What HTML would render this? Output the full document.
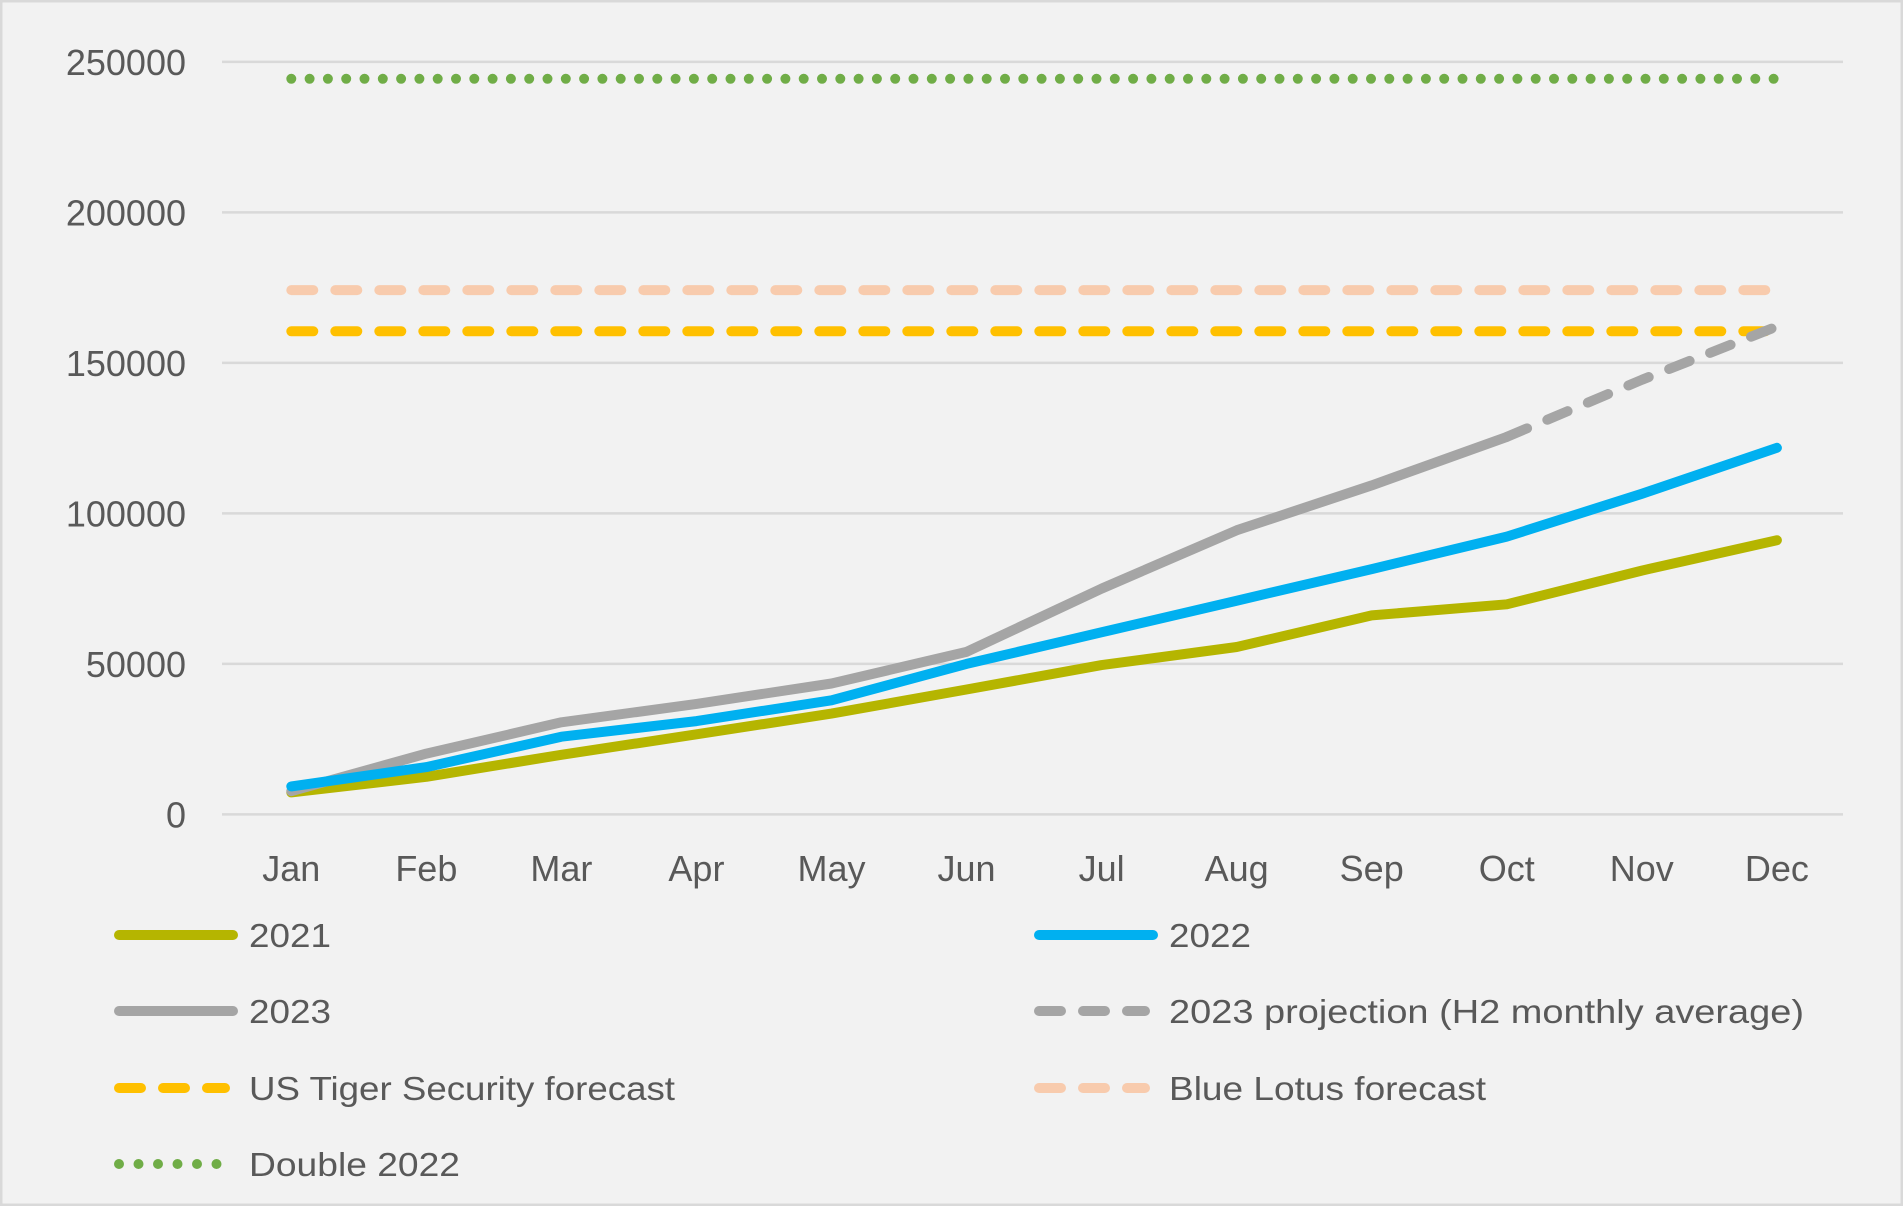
<!DOCTYPE html>
<html><head><meta charset="utf-8">
<style>
html,body{margin:0;padding:0;background:#f2f2f2;}
svg{display:block;font-family:"Liberation Sans",sans-serif;}
</style></head>
<body>
<svg id="chart" width="1903" height="1206" viewBox="0 0 1903 1206" xmlns="http://www.w3.org/2000/svg">
<rect x="1" y="1" width="1901" height="1204" fill="#f2f2f2" stroke="#d9d9d9" stroke-width="3"/>
<g id="grid"></g><g id="series"></g><g id="axes"></g><g id="legend"></g>
</svg>
<script>
const months = ["Jan","Feb","Mar","Apr","May","Jun","Jul","Aug","Sep","Oct","Nov","Dec"];
const yTicks = [0,50000,100000,150000,200000,250000];
const s2021 = [7300,12500,19800,26600,33500,41500,49600,55600,66100,69800,81000,91100];
const s2022 = [9300,15700,25800,31000,37900,50000,60500,71000,81500,92300,106500,121800];
const s2023 = [7700,20200,30600,36700,43500,54000,75000,94400,109300,125400,null,null];
const s2023proj = [null,null,null,null,null,null,null,null,null,125400,144400,162100];
const usTiger = [160500,160500,160500,160500,160500,160500,160500,160500,160500,160500,160500,160500];
const blueLotus = [174200,174200,174200,174200,174200,174200,174200,174200,174200,174200,174200,174200];
const double2022 = [244400,244400,244400,244400,244400,244400,244400,244400,244400,244400,244400,244400];

const NS="http://www.w3.org/2000/svg";
const X0=222, X1=1843, Y0=814.4, Y1=61.9, YMAX=250000;
const xJan=291.3, xStep=135.05;
function xScale(i){return xJan+i*xStep;}
function yScale(v){return Y0-(v/YMAX)*(Y0-Y1);}
function mk(tag,attrs,parent){const e=document.createElementNS(NS,tag);for(const k in attrs)e.setAttribute(k,attrs[k]);parent.appendChild(e);return e;}

const grid=document.getElementById('grid'), axes=document.getElementById('axes'), ser=document.getElementById('series'), leg=document.getElementById('legend');
yTicks.forEach(t=>{
  const l=mk('line',{x1:X0,x2:X1,y1:yScale(t),y2:yScale(t),stroke:'#d9d9d9','stroke-width':2.5},grid);
  
  
  const tx=mk('text',{x:186,y:yScale(t)+13,'text-anchor':'end','font-size':36,fill:'#595959'},axes);
  tx.textContent=String(t);
  
  
});
months.forEach((m,i)=>{
  const tx=mk('text',{x:xScale(i),y:881,'text-anchor':'middle','font-size':36,fill:'#595959'},axes);
  tx.textContent=m;
  
  
});
function pathFor(arr){let d='';arr.forEach((v,i)=>{if(v===null)return;d+=(d?'L':'M')+xScale(i).toFixed(1)+' '+yScale(v).toFixed(1);});return d;}
const styles=[
 {arr:double2022,name:'double-2022-line',color:'#70ad47',dash:'0 18.3'},
 {arr:blueLotus,name:'blue-lotus-forecast-line',color:'#f8cbad',dash:'22 22'},
 {arr:usTiger,name:'us-tiger-forecast-line',color:'#ffc000',dash:'22 22'},
 {arr:s2021,name:'line-2021',color:'#b5b500',dash:null},
 {arr:s2023proj,name:'line-2023-projection',color:'#a5a5a5',dash:'22 22'},
 {arr:s2023,name:'line-2023',color:'#a5a5a5',dash:null},
 {arr:s2022,name:'line-2022',color:'#00b0f0',dash:null}
];
styles.forEach(s=>{
  const a={d:pathFor(s.arr),fill:'none',stroke:s.color,'stroke-width':10,'stroke-linecap':'round','stroke-linejoin':'round'};
  if(s.dash)a['stroke-dasharray']=s.dash;
  const p=mk('path',a,ser);
  
  
});
const legendItems=[
 {label:'2021',color:'#b5b500',dash:null,x:115,y:935,tl:82},
 {label:'2022',color:'#00b0f0',dash:null,x:1035,y:935,tl:82},
 {label:'2023',color:'#a5a5a5',dash:null,x:115,y:1011,tl:82},
 {label:'2023 projection (H2 monthly average)',color:'#a5a5a5',dash:'22 22',x:1035,y:1011,tl:635},
 {label:'US Tiger Security forecast',color:'#ffc000',dash:'22 22',x:115,y:1088,tl:426},
 {label:'Blue Lotus forecast',color:'#f8cbad',dash:'22 22',x:1035,y:1088,tl:317},
 {label:'Double 2022',color:'#70ad47',dash:'0 19.5',x:115,y:1164,tl:211}
];
legendItems.forEach(it=>{
  const g=mk('g',{},leg);
  
  
  const a={x1:it.x+4,x2:it.x+118,y1:it.y,y2:it.y,stroke:it.color,'stroke-width':10,'stroke-linecap':'round'};
  if(it.dash){a['stroke-dasharray']=it.dash;a.x2=it.x+110;}
  mk('line',a,g);
  const t=mk('text',{x:it.x+134,y:it.y+12,'font-size':33,fill:'#595959',textLength:it.tl,lengthAdjust:'spacingAndGlyphs'},g);
  t.textContent=it.label;
});
</script>
</body></html>
